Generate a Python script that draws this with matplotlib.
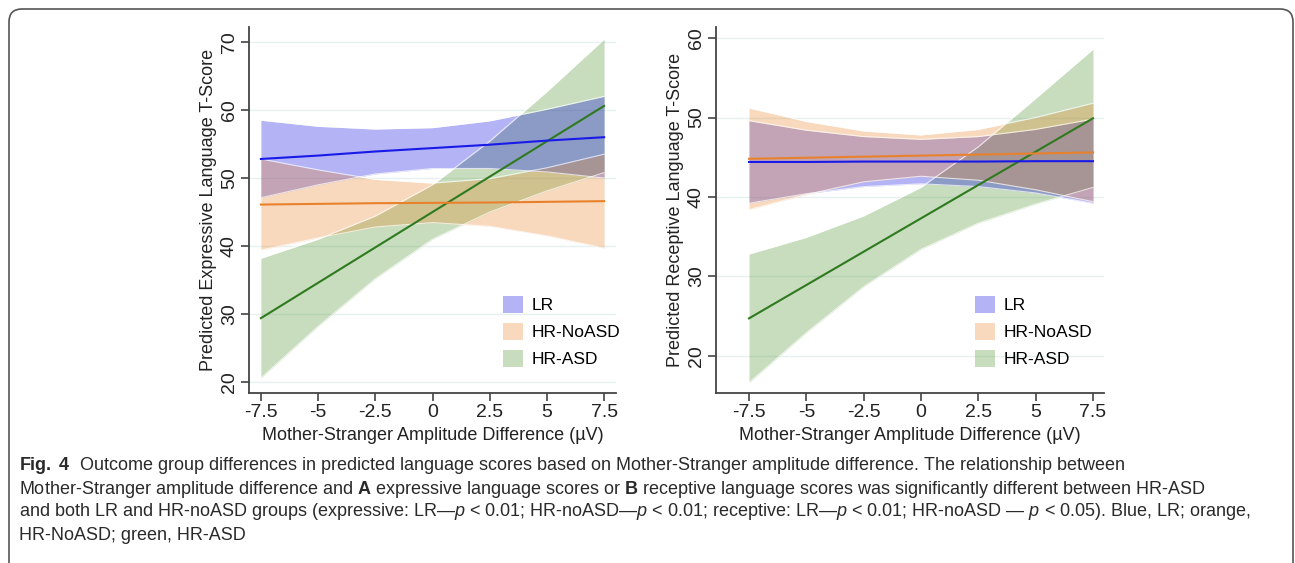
import matplotlib
matplotlib.use('Agg')
import matplotlib.pyplot as plt
from matplotlib.patches import Patch, FancyBboxPatch

# data
x = [-7.5, -5, -2.5, 0, 2.5, 5, 7.5]
groups = ['LR', 'HR-NoASD', 'HR-ASD']

# A: expressive
exp_lr = [52.8, 53.3, 53.9, 54.4, 54.9, 55.5, 56.0]
exp_lr_hi = [58.5, 57.6, 57.2, 57.4, 58.4, 60.1, 62.0]
exp_lr_lo = [47.1, 49.0, 50.6, 51.4, 51.4, 50.9, 50.0]
exp_no = [46.1, 46.2, 46.3, 46.35, 46.4, 46.5, 46.6]
exp_no_hi = [52.8, 51.2, 49.8, 49.25, 49.9, 51.5, 53.5]
exp_no_lo = [39.4, 41.2, 42.8, 43.45, 42.9, 41.5, 39.7]
exp_asd = [29.4, 34.6, 39.8, 45.0, 50.2, 55.4, 60.6]
exp_asd_hi = [38.2, 41.0, 44.4, 49.0, 55.4, 62.7, 70.4]
exp_asd_lo = [20.6, 28.2, 35.2, 41.0, 45.0, 48.1, 50.8]

# B: receptive
rec_lr = [44.4, 44.4, 44.45, 44.45, 44.45, 44.5, 44.5]
rec_lr_hi = [49.6, 48.4, 47.6, 47.25, 47.6, 48.5, 49.8]
rec_lr_lo = [39.2, 40.4, 41.3, 41.65, 41.3, 40.5, 39.2]
rec_no = [44.8, 44.93, 45.07, 45.2, 45.33, 45.47, 45.6]
rec_no_hi = [51.2, 49.5, 48.3, 47.8, 48.5, 50.0, 51.8]
rec_no_lo = [38.4, 40.3, 41.9, 42.6, 42.1, 40.9, 39.4]
rec_asd = [24.7, 28.9, 33.1, 37.3, 41.5, 45.7, 49.9]
rec_asd_hi = [32.8, 34.9, 37.6, 41.2, 46.3, 52.4, 58.6]
rec_asd_lo = [16.6, 22.9, 28.7, 33.4, 36.7, 39.1, 41.2]

xticks = [-7.5, -5, -2.5, 0, 2.5, 5, 7.5]
xticklabels = ['-7.5', '-5', '-2.5', '0', '2.5', '5', '7.5']

band_cols = {'LR': '#0505de', 'HR-NoASD': '#e88426', 'HR-ASD': '#489126'}
line_cols = {'LR': '#1a1ae8', 'HR-NoASD': '#e8812c', 'HR-ASD': '#2f7a1f'}
ALPHA = 0.3

plt.rcParams['font.family'] = ['Liberation Sans', 'DejaVu Sans']
plt.rcParams['mathtext.fontset'] = 'custom'
plt.rcParams['mathtext.rm'] = 'Liberation Sans'
plt.rcParams['mathtext.it'] = 'Liberation Sans:italic'
plt.rcParams['mathtext.bf'] = 'Liberation Sans:bold'

fig = plt.figure(figsize=(12.95, 5.63), dpi=100)

# rounded frame around the figure
frame = FancyBboxPatch((9 / 1295, -0.05), 1284 / 1295, 1 - 9 / 563 + 0.05,
                       boxstyle='round,pad=0,rounding_size=0.01',
                       transform=fig.transFigure, facecolor='none',
                       edgecolor='#555555', lw=1.2, mutation_aspect=1295 / 563)
fig.patches.append(frame)


def panel(ax, data, ylim, yticks, ylabel, leg_anchor):
    # green first, then blue, then orange so the overlaps mix like the original
    for g in ['HR-ASD', 'LR', 'HR-NoASD']:
        mid, hi, lo = data[g]
        ax.fill_between(x, lo, hi, color=band_cols[g], alpha=ALPHA, lw=0)
        ax.plot(x, hi, color='white', lw=0.8, alpha=0.7)
        ax.plot(x, lo, color='white', lw=0.8, alpha=0.7)
    for g in ['HR-ASD', 'LR', 'HR-NoASD']:
        mid = data[g][0]
        ax.plot(x, mid, color=line_cols[g], lw=1.5, zorder=5)
    ax.set_ylim(*ylim)
    ax.set_yticks(yticks)
    ax.set_yticklabels([str(t) for t in yticks], rotation=90, va='center')
    ax.set_xticks(xticks)
    ax.set_xticklabels(xticklabels)
    ax.grid(axis='y', color='#e6f0f1', lw=1)
    ax.set_axisbelow(True)
    for s in ['top', 'right']:
        ax.spines[s].set_visible(False)
    for s in ['left', 'bottom']:
        ax.spines[s].set_color('#444444')
        ax.spines[s].set_linewidth(1.3)
    ax.tick_params(length=6, width=1.2, color='#444444', labelsize=14, pad=2,
                   labelcolor='#222222')
    ax.set_xlabel('Mother-Stranger Amplitude Difference (\u00b5V)', fontsize=13,
                  color='#222222', labelpad=4)
    ax.set_ylabel(ylabel, fontsize=13, color='#222222', labelpad=3)
    handles = [Patch(facecolor=band_cols[g], alpha=ALPHA, lw=0) for g in groups]
    ax.legend(handles, groups, loc='lower left', bbox_to_anchor=leg_anchor,
              frameon=False, fontsize=12.5, handlelength=1.15, handleheight=1.15,
              labelspacing=0.55, handletextpad=0.5, borderpad=0, borderaxespad=0)


ax1 = fig.add_axes([249 / 1295, 1 - 393 / 563, 367 / 1295, 366 / 563])
ax1.set_xlim(-8.02, 8.02)
panel(ax1,
      {'LR': (exp_lr, exp_lr_hi, exp_lr_lo),
       'HR-NoASD': (exp_no, exp_no_hi, exp_no_lo),
       'HR-ASD': (exp_asd, exp_asd_hi, exp_asd_lo)},
      (18.4, 72.2), [20, 30, 40, 50, 60, 70],
      'Predicted Expressive Language T-Score', (0.692, 0.07))

ax2 = fig.add_axes([716 / 1295, 1 - 393 / 563, 388 / 1295, 366 / 563])
ax2.set_xlim(-8.94, 7.98)
panel(ax2,
      {'LR': (rec_lr, rec_lr_hi, rec_lr_lo),
       'HR-NoASD': (rec_no, rec_no_hi, rec_no_lo),
       'HR-ASD': (rec_asd, rec_asd_hi, rec_asd_lo)},
      (15.3, 61.4), [20, 30, 40, 50, 60],
      'Predicted Receptive Language T-Score', (0.667, 0.07))

# caption
caption = [
    r'$\mathbf{Fig.}$ $\mathbf{4}$  Outcome group differences in predicted language scores based on Mother-Stranger amplitude difference. The relationship between',
    r'Mother-Stranger amplitude difference and $\mathbf{A}$ expressive language scores or $\mathbf{B}$ receptive language scores was significantly different between HR-ASD',
    r'and both LR and HR-noASD groups (expressive: LR—$\mathit{p}$ < 0.01; HR-noASD—$\mathit{p}$ < 0.01; receptive: LR—$\mathit{p}$ < 0.01; HR-noASD — $\mathit{p}$ < 0.05). Blue, LR; orange,',
    'HR-NoASD; green, HR-ASD',
]
for i, line in enumerate(caption):
    fig.text(19 / 1295, 1 - (466 + 23 * i) / 563, line, fontsize=13,
             color='#2a2a2a', va='center', ha='left')

fig.savefig('out.png', dpi=100)
